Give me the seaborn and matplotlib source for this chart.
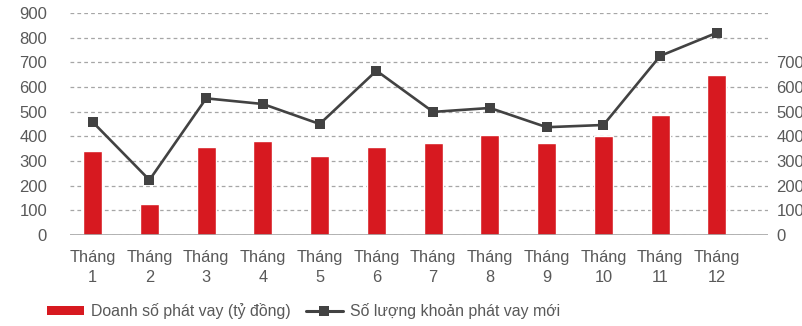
import matplotlib
matplotlib.use("Agg")
import matplotlib.pyplot as plt
from matplotlib.lines import Line2D
from matplotlib.patches import Patch
import seaborn as sns
import pandas as pd

months = ["Tháng\n1", "Tháng\n2", "Tháng\n3", "Tháng\n4", "Tháng\n5", "Tháng\n6",
          "Tháng\n7", "Tháng\n8", "Tháng\n9", "Tháng\n10", "Tháng\n11", "Tháng\n12"]
doanh_so = [342, 126, 358, 381, 320, 358, 374, 405, 372, 403, 486, 649]
so_luong = [458, 223, 554, 531, 450, 666, 499, 515, 437, 446, 726, 820]
left_ticks = [0, 100, 200, 300, 400, 500, 600, 700, 800, 900]
right_ticks = [0, 100, 200, 300, 400, 500, 600, 700]

bar_label = "Doanh số phát vay (tỷ đồng)"
line_label = "Số lượng khoản phát vay mới"

sns.set_theme(style="white")
plt.rcParams["font.family"] = ["Liberation Sans", "DejaVu Sans"]

RED = "#d71920"
DARK = "#424242"
TXT = "#595959"

df = pd.DataFrame({"thang": months, "pos": range(len(months)),
                   "doanh_so": doanh_so, "so_luong": so_luong})

fig = plt.figure(figsize=(8.03, 3.26), dpi=100)
ax = fig.add_axes([70 / 803, 91 / 326, 698 / 803, 222 / 326])

sns.barplot(data=df, x="thang", y="doanh_so", color=RED, width=0.335,
            saturation=1, ax=ax, zorder=2)

ax2 = ax.twinx()
sns.lineplot(data=df, x="pos", y="so_luong", color=DARK, linewidth=1.9,
             marker="s", markersize=7.5, markeredgewidth=0, ax=ax2, zorder=3)

for a in (ax, ax2):
    a.set_ylim(0, 900)
    a.set_xlim(-0.4, 11.9)
    a.set_xlabel("")
    a.set_ylabel("")
    for s in a.spines.values():
        s.set_visible(False)

ax.set_yticks(left_ticks)
ax.set_yticklabels([str(t) for t in left_ticks])
ax2.set_yticks(right_ticks)
ax2.set_yticklabels([str(t) for t in right_ticks])
ax.set_xticks(range(len(months)))
ax.set_xticklabels(months)

ax.yaxis.grid(True, linestyle=(0, (3, 2.5)), color="#a6a6a6", linewidth=0.9)
ax.set_axisbelow(True)
ax.axhline(0, color="#a6a6a6", linewidth=1.2, zorder=4)

ax.tick_params(axis="y", length=0, pad=16.5, labelsize=12, labelcolor=TXT)
ax2.tick_params(axis="y", length=0, pad=6, labelsize=12, labelcolor=TXT)
ax.tick_params(axis="x", length=0, pad=10.5, labelsize=11.8, labelcolor=TXT)
for lab in ax.get_xticklabels():
    lab.set_linespacing(1.45)

handles = [Patch(facecolor=RED, edgecolor="none", label=bar_label),
           Line2D([], [], color=DARK, linewidth=2.2, marker="s", markersize=7,
                  markeredgewidth=0, label=line_label)]
fig.legend(handles=handles, loc="center left", bbox_to_anchor=(47 / 803, 1 - 311 / 326),
           ncol=2, frameon=False, fontsize=11.4, handlelength=2.34, handleheight=0.44,
           handletextpad=0.44, columnspacing=0.95, borderpad=0, borderaxespad=0,
           labelcolor=TXT)

fig.savefig("out.png", dpi=100)
